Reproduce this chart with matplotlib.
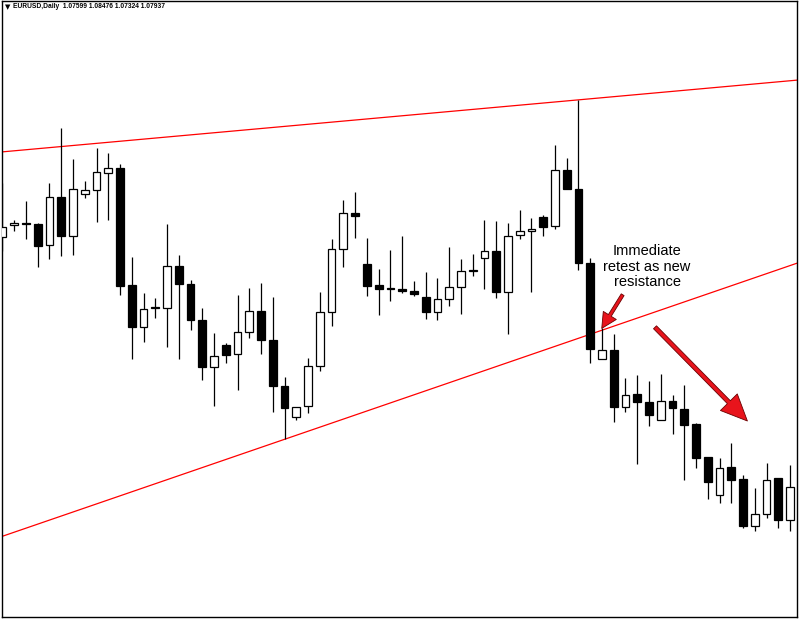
import matplotlib
matplotlib.use("Agg")
import matplotlib.pyplot as plt

# ---- data (EURUSD daily candles) ----
opens = [1.1247, 1.1268, 1.1271, 1.1270, 1.1233, 1.1317, 1.1249, 1.1322, 1.1330, 1.1359,
         1.1367, 1.1163, 1.1089, 1.1125, 1.1123, 1.1196, 1.1165, 1.1102, 1.1019, 1.1058,
         1.1042, 1.1081, 1.1117, 1.1067, 1.0986, 1.0932, 1.0951, 1.1021, 1.1116, 1.1226,
         1.1289, 1.1200, 1.1163, 1.1157, 1.1156, 1.1153, 1.1142, 1.1116, 1.1138, 1.1159,
         1.1188, 1.1210, 1.1223, 1.1150, 1.1250, 1.1257, 1.1282, 1.1267, 1.1365, 1.1331,
         1.1202, 1.1034, 1.1050, 1.0949, 1.0972, 1.0959, 1.0926, 1.0960, 1.0946, 1.0920,
         1.0862, 1.0795, 1.0844, 1.0824, 1.0742, 1.0762, 1.0826, 1.0752]
highs = [1.1342, 1.1277, 1.1310, 1.1271, 1.1341, 1.1438, 1.1384, 1.1345, 1.1403, 1.1394,
         1.1374, 1.1212, 1.1149, 1.1140, 1.1270, 1.1216, 1.1172, 1.1123, 1.1079, 1.1062,
         1.1145, 1.1158, 1.1167, 1.1142, 1.1002, 1.0950, 1.1035, 1.1151, 1.1244, 1.1312,
         1.1326, 1.1245, 1.1191, 1.1225, 1.1249, 1.1170, 1.1185, 1.1175, 1.1230, 1.1209,
         1.1218, 1.1277, 1.1275, 1.1271, 1.1295, 1.1280, 1.1286, 1.1408, 1.1385, 1.1487,
         1.1210, 1.1088, 1.1077, 1.1001, 1.1005, 1.0995, 1.1007, 1.0970, 1.0988, 1.0922,
         1.0862, 1.0860, 1.0886, 1.0830, 1.0807, 1.0851, 1.0826, 1.0848]
lows = [1.1223, 1.1258, 1.1243, 1.1194, 1.1209, 1.1213, 1.1216, 1.1316, 1.1274, 1.1276,
        1.1146, 1.1034, 1.1064, 1.1106, 1.1055, 1.1034, 1.1085, 1.0996, 1.0952, 1.1027,
        1.0980, 1.1071, 1.1042, 1.0941, 1.0893, 1.0926, 1.0939, 1.1012, 1.1092, 1.1194,
        1.1246, 1.1143, 1.1110, 1.1135, 1.1149, 1.1143, 1.1104, 1.1101, 1.1127, 1.1112,
        1.1178, 1.1156, 1.1140, 1.1077, 1.1244, 1.1150, 1.1248, 1.1261, 1.1331, 1.1190,
        1.1026, 1.1034, 1.0923, 1.0940, 1.0849, 1.0917, 1.0926, 1.0903, 1.0822, 1.0842,
        1.0788, 1.0781, 1.0781, 1.0737, 1.0733, 1.0756, 1.0737, 1.0733]
closes = [1.1265, 1.1272, 1.1269, 1.1232, 1.1317, 1.1249, 1.1331, 1.1330, 1.1360, 1.1367,
          1.1162, 1.1089, 1.1121, 1.1123, 1.1196, 1.1165, 1.1102, 1.1019, 1.1039, 1.1041,
          1.1081, 1.1117, 1.1067, 1.0986, 1.0947, 1.0950, 1.1021, 1.1116, 1.1226, 1.1289,
          1.1284, 1.1162, 1.1156, 1.1156, 1.1152, 1.1148, 1.1116, 1.1138, 1.1159, 1.1188,
          1.1189, 1.1223, 1.1150, 1.1249, 1.1257, 1.1261, 1.1265, 1.1365, 1.1331, 1.1201,
          1.1051, 1.1050, 1.0949, 1.0970, 1.0959, 1.0936, 1.0960, 1.0947, 1.0918, 1.0861,
          1.0819, 1.0843, 1.0822, 1.0742, 1.0763, 1.0822, 1.0752, 1.0810]

header_text = "EURUSD,Daily  1.07599 1.08476 1.07324 1.07937"
annotation_text = "Immediate\nretest as new\nresistance"

# trendline anchor points (candle index, price)
upper_line = [(0, 1.1396), (49, 1.1487)]
lower_line = [(24, 1.0893), (67, 1.1197)]

# ---- figure ----
fig = plt.figure(figsize=(8.0, 6.21), dpi=100)
W, H = 800, 621
ax = fig.add_axes([2 / W, (H - 617) / H, (797 - 2) / W, (617 - 1) / H])
ax.set_facecolor("white")

n = len(opens)
xs = list(range(n))
body_w = 0.66

# wicks
ax.vlines(xs, lows, highs, colors="black", linewidth=0.9, zorder=2)

# bodies
for i in xs:
    o, c = opens[i], closes[i]
    bottom = min(o, c)
    height = abs(c - o)
    face = "white" if c >= o else "black"
    ax.bar(i, height, bottom=bottom, width=body_w, facecolor=face,
           edgecolor="black", linewidth=0.9, zorder=3)

# trendlines
ax.axline(upper_line[0], upper_line[1], color="#ff0000", linewidth=0.9, zorder=1)
ax.axline(lower_line[0], lower_line[1], color="#ff0000", linewidth=0.9, zorder=1)

# annotation text
ax.text(54.83, 1.1195, annotation_text, ha="center", va="center",
        fontsize=10.5, family="Liberation Sans", linespacing=1.15, zorder=5)

# arrows
ax.annotate("", xy=(50.98, 1.1087), xytext=(52.76, 1.1146),
            arrowprops=dict(width=2.4, headwidth=11, headlength=11,
                            facecolor="#e8141c", edgecolor="#6a0000", linewidth=0.6),
            zorder=6)
ax.annotate("", xy=(63.37, 1.0925), xytext=(55.51, 1.1089),
            arrowprops=dict(width=3.0, headwidth=17, headlength=19,
                            facecolor="#e8141c", edgecolor="#6a0000", linewidth=0.6),
            zorder=6)

ax.set_xlim(-0.04, 67.59)
ax.set_ylim(1.0582, 1.1660)
ax.set_xticks([])
ax.set_yticks([])
for s in ax.spines.values():
    s.set_color("black")
    s.set_linewidth(1.0)

# header
fig.text(4.5 / W, 1 - 7 / H, "\u25bc", fontsize=5.0, va="center", ha="left",
         family="DejaVu Sans")
fig.text(13 / W, 1 - 7 / H, header_text, fontsize=4.8, va="center", ha="left",
         family="Liberation Sans", fontweight="bold")

fig.savefig("out.png", dpi=100, facecolor="white")
